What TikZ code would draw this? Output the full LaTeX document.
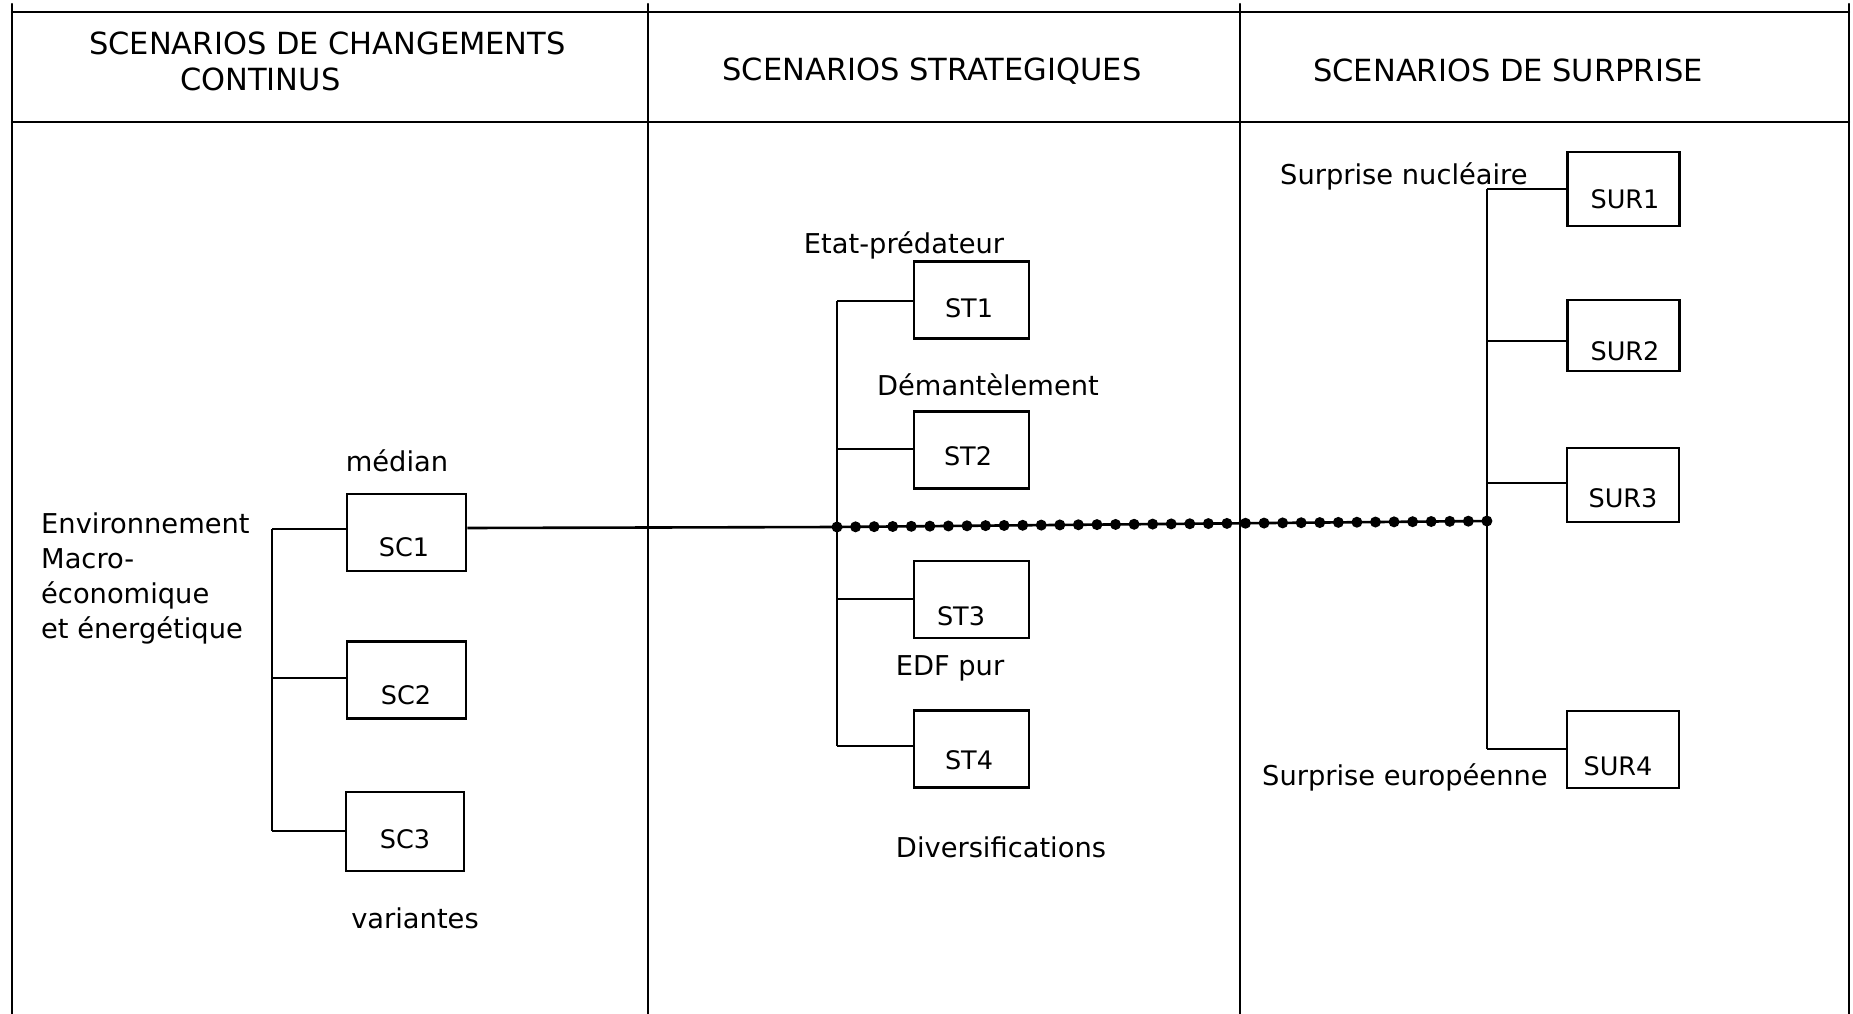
\documentclass[tikz,border=0pt]{standalone}
\usepackage{fontspec}
\setmainfont{DejaVu Sans}
\usetikzlibrary{decorations.markings}
\begin{document}
\begin{tikzpicture}[x=1pt,y=-1pt,
  frame/.style={line width=2.4pt, line cap=round},
  conn/.style={line width=2.6pt},
  scbox/.style={draw, line width=2.8pt, minimum width=119pt, minimum height=77pt, inner sep=0pt},
  stbox/.style={draw, line width=2.8pt, minimum width=115pt, minimum height=77pt, inner sep=0pt},
  surbox/.style={draw, line width=2.8pt, minimum width=112pt, minimum height=74pt, inner sep=0pt},
  boxtxt/.style={font=\fontsize{25.5}{30}\selectfont, inner sep=0pt},
  lbl/.style={font=\fontsize{27.3}{35}\selectfont, inner sep=0pt},
  hdr/.style={font=\fontsize{30.5}{36}\selectfont, inner sep=0pt},
  dotted line/.style={line width=2.6pt, postaction={decorate, decoration={markings,
      mark=between positions 0 and 1 step 18.57pt with {\fill (0,0) circle (5.5pt);}}}}
]
\useasboundingbox (0,0) rectangle (1853,1014);
\fill[white] (0,0) rectangle (1853,1014);

% frame
\draw[frame] (12,12) -- (1849,12);
\draw[frame] (12,122) -- (1849,122);
\draw[frame] (12,4) -- (12,1014);
\draw[frame] (648,4) -- (648,1014);
\draw[frame] (1240,4) -- (1240,1014);
\draw[frame] (1849,4) -- (1849,1014);

% headers
\node[hdr, anchor=north west, align=left] (h1) at (89,32) {SCENARIOS DE CHANGEMENTS\\\hspace*{91pt}CONTINUS};
\node[hdr] (h2) at (932,71) {SCENARIOS STRATEGIQUES};
\node[hdr] (h3) at (1508,70) {SCENARIOS DE SURPRISE};

% column 1
\node[scbox] (sc1) at (406.5,532.5) {};
\node[scbox] (sc2) at (406.5,680) {};
\node[scbox, minimum width=118pt, minimum height=79pt] (sc3) at (405,831.5) {};
\node[boxtxt] (tsc1) at (404,547) {SC1};
\node[boxtxt] (tsc2) at (406,695) {SC2};
\node[boxtxt] (tsc3) at (405,839) {SC3};
\coordinate (b1) at (272,529);
\coordinate (b2) at (272,678);
\coordinate (b3) at (272,831);
\draw[conn] (b1) -- (b1 -| sc1.west);
\draw[conn] (b2) -- (b2 -| sc2.west);
\draw[conn] (b3) -- (b3 -| sc3.west);
\draw[conn] (b1) -- (b3);
\node[lbl, anchor=north west, align=left] (env) at (41,513) {Environnement\\Macro-\\économique\\et énergétique};
\node[lbl] (med) at (397,461) {médian};
\node[lbl] (var) at (415,918) {variantes};

% column 2
\node[stbox] (st1) at (971.5,300) {};
\node[stbox] (st2) at (971.5,450) {};
\node[stbox] (st3) at (971.5,599.5) {};
\node[stbox] (st4) at (971.5,749) {};
\node[boxtxt] (tst1) at (969,308) {ST1};
\node[boxtxt] (tst2) at (968,456) {ST2};
\node[boxtxt] (tst3) at (961,616) {ST3};
\node[boxtxt] (tst4) at (969,760) {ST4};
\coordinate (s1) at (837,301);
\coordinate (s2) at (837,449);
\coordinate (s3) at (837,599);
\coordinate (s4) at (837,746);
\coordinate (sj) at (837,527);
\draw[conn] (s1) -- (s1 -| st1.west);
\draw[conn] (s2) -- (s2 -| st2.west);
\draw[conn] (s3) -- (s3 -| st3.west);
\draw[conn] (s4) -- (s4 -| st4.west);
\draw[conn] (s1) -- (s4);
\node[lbl] (etat) at (904,245) {Etat-prédateur};
\node[lbl] (dem) at (988,385) {Démantèlement};
\node[lbl] (edf) at (950,668) {EDF pur};
\node[lbl] (div) at (1001,847) {Diversifications};

% column 3
\node[surbox] (sur1) at (1623.5,189) {};
\node[surbox, minimum height=71pt] (sur2) at (1623.5,335.5) {};
\node[surbox] (sur3) at (1623,485) {};
\node[surbox, minimum height=77pt] (sur4) at (1623,749.5) {};
\node[boxtxt] (tsur1) at (1625,199) {SUR1};
\node[boxtxt] (tsur2) at (1625,351) {SUR2};
\node[boxtxt] (tsur3) at (1623,498) {SUR3};
\node[boxtxt] (tsur4) at (1618,766) {SUR4};
\coordinate (u1) at (1487,189);
\coordinate (u2) at (1487,341);
\coordinate (u3) at (1487,483);
\coordinate (u4) at (1487,749);
\coordinate (uj) at (1487,521);
\draw[conn] (u1) -- (u1 -| sur1.west);
\draw[conn] (u2) -- (u2 -| sur2.west);
\draw[conn] (u3) -- (u3 -| sur3.west);
\draw[conn] (u4) -- (u4 -| sur4.west);
\draw[conn] (u1) -- (u4);
\node[lbl, anchor=west] (snuc) at (1280,176) {Surprise nucléaire};
\node[lbl, anchor=west] (seur) at (1262,777) {Surprise européenne};

% main line
\draw[conn] (sc1.east |- 0,528) -- (sj);
\draw[dotted line] (sj) -- (uj);
\end{tikzpicture}
\end{document}
